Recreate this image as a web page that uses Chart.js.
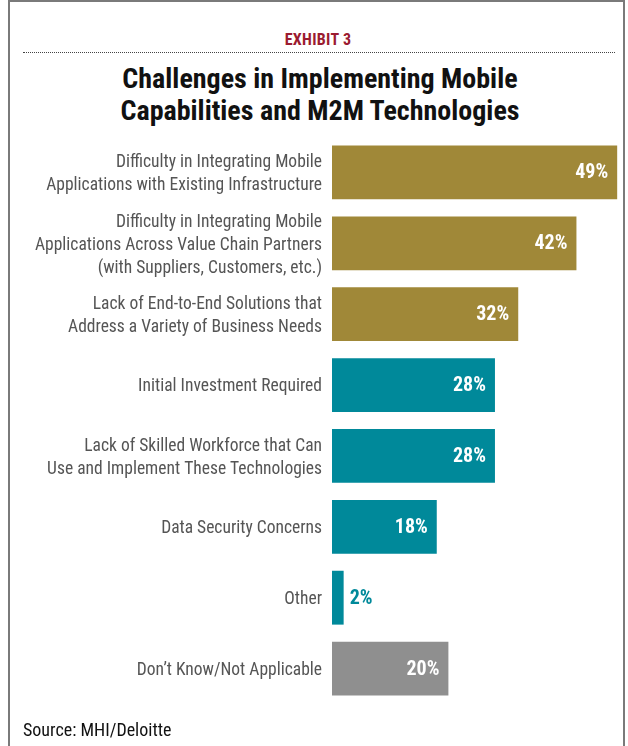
<!DOCTYPE html>
<html>
<head>
<meta charset="utf-8">
<script src="https://cdn.jsdelivr.net/npm/chart.js@4/dist/chart.umd.min.js"></script>
<style>
  html, body { margin: 0; padding: 0; background: #fff; }
  #wrap { position: relative; width: 628px; height: 746px; overflow: hidden; }
  #frame { position: absolute; left: 8px; top: 0; width: 617px; height: 760px;
           border: 2px solid #7a7a7a; box-sizing: border-box; }
  #exhibit { position: absolute; left: 0; width: 636px; top: 30px; text-align: center;
             font: bold 16px 'Roboto Condensed', sans-serif; color: #9b1b30; letter-spacing: 0.3px; }
  #rule { position: absolute; left: 23px; width: 592px; top: 52px; border-top: 1.5px dotted #444; }
  #title { position: absolute; left: 0; width: 640px; top: 63px; text-align: center;
           font: bold 28px/32px 'Roboto Condensed', sans-serif; color: #111; }
  #source { position: absolute; left: 23px; top: 719px;
            font: 18px 'Roboto Condensed', sans-serif; color: #111; }
  canvas { position: absolute; left: 0; top: 0; }
</style>
</head>
<body>
<div id="wrap">
  <div id="frame"></div>
  <div id="exhibit">EXHIBIT 3</div>
  <div id="rule"></div>
  <div id="title">Challenges in Implementing Mobile<br>Capabilities and M2M Technologies</div>
  <canvas id="c" width="628" height="746"></canvas>
  <div id="source">Source: MHI/Deloitte</div>
</div>
<script>
// chart data
const categories = [
  ['Difficulty in Integrating Mobile', 'Applications with Existing Infrastructure'],
  ['Difficulty in Integrating Mobile', 'Applications Across Value Chain Partners', '(with Suppliers, Customers, etc.)'],
  ['Lack of End-to-End Solutions that', 'Address a Variety of Business Needs'],
  'Initial Investment Required',
  ['Lack of Skilled Workforce that Can', 'Use and Implement These Technologies'],
  'Data Security Concerns',
  'Other',
  'Don\u2019t Know/Not Applicable'
];
const values = [49, 42, 32, 28, 28, 18, 2, 20];
const barColors = ['#a08838', '#a08838', '#a08838', '#00899a', '#00899a', '#00899a', '#00899a', '#8f8f8f'];

const FONT = "'Roboto Condensed', sans-serif";

// value labels: white inside the bar, or coloured just outside when the bar is too short
const valueLabels = {
  id: 'valueLabels',
  afterDatasetsDraw(chart) {
    const ctx = chart.ctx;
    const meta = chart.getDatasetMeta(0);
    ctx.save();
    ctx.font = 'bold 20px ' + FONT;
    ctx.textBaseline = 'middle';
    meta.data.forEach((bar, i) => {
      const txt = values[i] + '%';
      const w = ctx.measureText(txt).width;
      if (bar.x - bar.base > w + 16) {
        ctx.fillStyle = '#fff';
        ctx.textAlign = 'right';
        ctx.fillText(txt, bar.x - 9, bar.y + 1);
      } else {
        ctx.fillStyle = barColors[i];
        ctx.textAlign = 'left';
        ctx.fillText(txt, bar.x + 6, bar.y + 1);
      }
    });
    ctx.restore();
  }
};

new Chart(document.getElementById('c'), {
  type: 'bar',
  data: {
    labels: categories,
    datasets: [{
      data: values,
      backgroundColor: barColors,
      borderWidth: 0,
      barPercentage: 0.76,
      categoryPercentage: 1
    }]
  },
  options: {
    indexAxis: 'y',
    responsive: false,
    animation: false,
    layout: { padding: { top: 137, bottom: 42, left: 0, right: 5 } },
    scales: {
      x: { display: false, min: 0, max: 50 },
      y: {
        grid: { display: false, drawTicks: false },
        border: { display: false },
        afterFit(scale) { scale.width = 332; },
        ticks: { autoSkip: false, color: '#555', padding: 10, labelOffset: 2,
                 font: { family: FONT, size: 17.5, lineHeight: 1.32 } }
      }
    },
    plugins: { legend: { display: false }, tooltip: { enabled: false } }
  },
  plugins: [valueLabels]
});
</script>
</body>
</html>
